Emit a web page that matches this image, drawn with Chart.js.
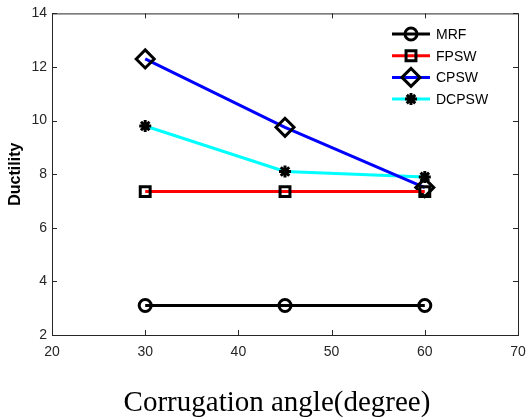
<!DOCTYPE html>
<html>
<head>
<meta charset="utf-8">
<script src="https://cdn.jsdelivr.net/npm/chart.js@4.4.0/dist/chart.umd.min.js"></script>
<style>
  html, body { margin: 0; padding: 0; background: #fff; }
  #wrap { width: 530px; height: 419px; position: relative; }
</style>
</head>
<body>
<div id="wrap"><canvas id="id_grafica"></canvas></div>
<script>
//------------------------DATOS---------------------------
const angulos = [30, 45, 60];
const mrf = [3.1, 3.1, 3.1];
const fpsw = [7.35, 7.35, 7.35];
const cpsw = [12.3, 9.75, 7.5];
const dcpsw = [9.8, 8.1, 7.9];
const xTicks = [20, 30, 40, 50, 60, 70];
const yTicks = [2, 4, 6, 8, 10, 12, 14];
const tituloX = 'Corrugation angle(degree)';
const tituloY = 'Ductility';

const series = [
    { label: 'MRF', data: mrf, color: '#000000', style: 'circle', radius: 6 },
    { label: 'FPSW', data: fpsw, color: '#ff0000', style: 'rect', radius: 7 },
    { label: 'CPSW', data: cpsw, color: '#0000ff', style: 'rectRot', radius: 9 },
    { label: 'DCPSW', data: dcpsw, color: '#00ffff', style: 'star', radius: 6 }
];

const toPoints = (arr) => arr.map((v, i) => ({ x: angulos[i], y: v }));

//------------------------PLUGIN: caja, ticks hacia dentro, titulo X y leyenda---------------------------
const cajaPlugin = {
    id: 'caja',
    afterDraw(chart) {
        const ctx = chart.ctx;
        const a = chart.chartArea;
        const sx = chart.scales.x;
        const sy = chart.scales.y;
        ctx.save();
        ctx.strokeStyle = '#262626';
        ctx.lineWidth = 1;
        ctx.strokeRect(a.left + 0.5, a.top + 0.5, a.right - a.left, a.bottom - a.top);
        ctx.beginPath();
        xTicks.forEach(t => {
            const px = Math.round(sx.getPixelForValue(t)) + 0.5;
            ctx.moveTo(px, a.bottom); ctx.lineTo(px, a.bottom - 5);
            ctx.moveTo(px, a.top); ctx.lineTo(px, a.top + 5);
        });
        yTicks.forEach(t => {
            const py = Math.round(sy.getPixelForValue(t)) + 0.5;
            ctx.moveTo(a.left, py); ctx.lineTo(a.left + 5, py);
            ctx.moveTo(a.right, py); ctx.lineTo(a.right - 5, py);
        });
        ctx.stroke();

        // titulo del eje x (centrado como en el original)
        ctx.fillStyle = '#000';
        ctx.font = '29px "Liberation Serif", "Times New Roman", serif';
        ctx.textAlign = 'center';
        ctx.textBaseline = 'alphabetic';
        ctx.fillText(tituloX, 277, 411);

        // leyenda
        const lx = 392, tx = 436;
        let ly = 34;
        ctx.textAlign = 'left';
        ctx.font = '14px "Liberation Sans", Arial, sans-serif';
        ctx.textBaseline = 'middle';
        series.forEach(s => {
            ctx.strokeStyle = s.color;
            ctx.lineWidth = 3;
            ctx.beginPath();
            ctx.moveTo(lx, ly); ctx.lineTo(lx + 38, ly);
            ctx.stroke();
            ctx.strokeStyle = '#000';
            ctx.fillStyle = 'rgba(0,0,0,0)';
            ctx.lineWidth = 3;
            Chart.helpers.drawPoint(ctx, { pointStyle: s.style, radius: s.radius, borderWidth: 3, rotation: 0 }, lx + 19, ly);
            ctx.fillStyle = '#000';
            ctx.fillText(s.label, tx, ly + 1);
            ly += 21.7;
        });
        ctx.restore();
    }
};

//------------------------GRÁFICA---------------------------
let ctx1 = document.getElementById('id_grafica').getContext('2d');
let chart1 = new Chart(ctx1, {
    type: 'line',
    data: {
        datasets: series.map(s => ({
            label: s.label,
            data: toPoints(s.data),
            borderColor: s.color,
            borderWidth: 3,
            pointStyle: s.style,
            pointRadius: s.radius,
            pointBorderColor: '#000',
            pointBackgroundColor: 'rgba(0,0,0,0)',
            pointBorderWidth: 3,
            tension: 0
        }))
    },
    options: {
        responsive: true,
        maintainAspectRatio: false,
        animation: false,
        layout: { padding: { top: 13, right: 0, left: 0, bottom: 0 } },
        plugins: { legend: { display: false }, tooltip: { enabled: false } },
        scales: {
            x: {
                type: 'linear',
                min: 20, max: 70,
                afterBuildTicks: (s) => { s.ticks = xTicks.map(v => ({ value: v })); },
                afterFit: (s) => { s.height = 84; s.paddingRight = 9; },
                grid: { display: false, drawTicks: false },
                border: { display: false },
                ticks: { padding: 9, color: '#262626', font: { family: '"Liberation Sans", Arial', size: 14 } },
                title: { display: false }
            },
            y: {
                min: 2, max: 14,
                afterBuildTicks: (s) => { s.ticks = yTicks.map(v => ({ value: v })); },
                afterFit: (s) => { s.width = 52; },
                grid: { display: false, drawTicks: false },
                border: { display: false },
                ticks: { padding: 5, color: '#262626', font: { family: '"Liberation Sans", Arial', size: 14 } },
                title: {
                    display: true,
                    text: tituloY,
                    color: '#000',
                    font: { family: '"Liberation Sans", Arial', size: 16, weight: 'bold' },
                    padding: { top: 6, bottom: 0 }
                }
            }
        }
    },
    plugins: [cajaPlugin]
});
</script>
</body>
</html>
